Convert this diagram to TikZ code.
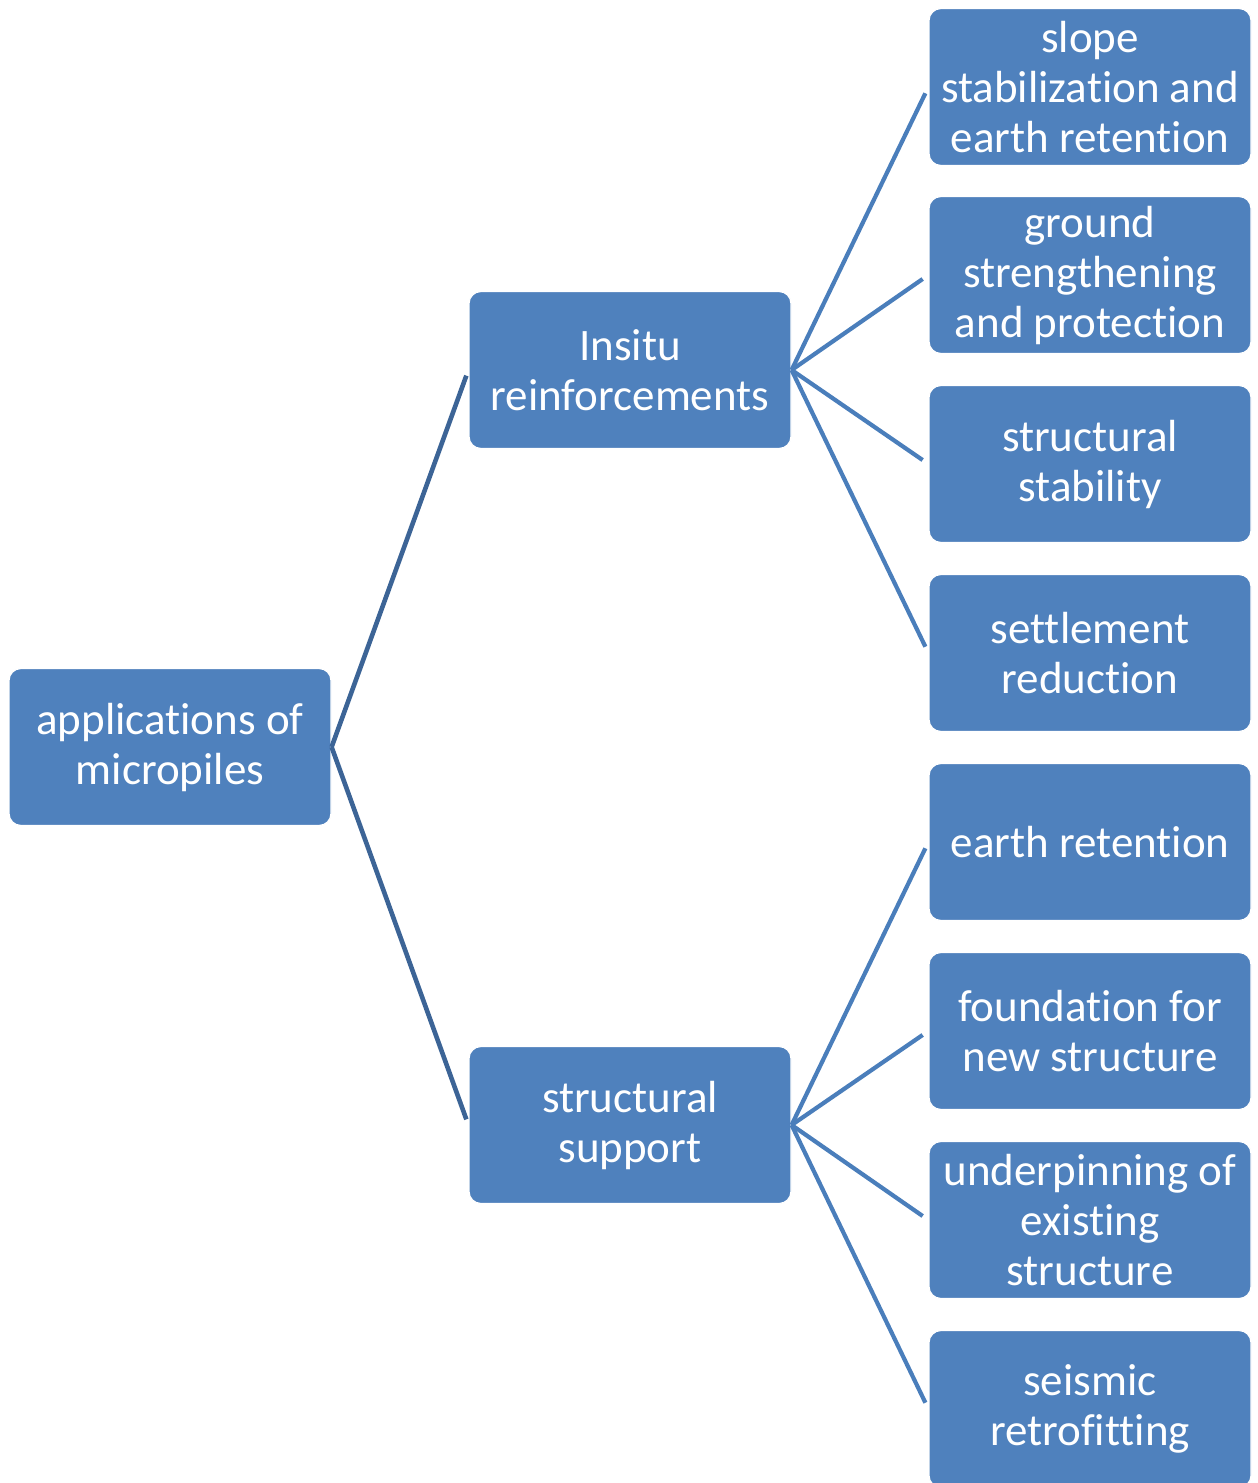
\documentclass[tikz,border=0pt]{standalone}
\usepackage{fontspec}
\setmainfont[Ligatures=NoCommon]{Carlito}
\usetikzlibrary{positioning}
\definecolor{boxblue}{HTML}{4F81BD}
\definecolor{linkdark}{HTML}{3C6496}
\definecolor{linklight}{HTML}{4A7EBB}

\begin{document}
\begin{tikzpicture}[x=0.5pt, y=-0.5pt,
	item/.style={rectangle, rounded corners=6pt, fill=boxblue, draw=white, line width=0.6pt, minimum width=161pt, minimum height=78.5pt, align=center, text=white, font=\fontsize{22.5}{25}\selectfont, inner sep=2pt},
	link/.style={line width=2.3pt, linkdark, shorten >=3pt},
	sublink/.style={line width=2.1pt, linklight, shorten >=3.5pt}]
	\useasboundingbox (0,0) rectangle (1258,1483);

	\node[item] (root) at (170,747) {applications of\\micropiles};
	\node[item] (insitu) at (630,370) {Insitu\\reinforcements};
	\node[item] (support) at (630,1125) {structural\\support};

	\node[item] (slope) at (1090,87) {slope\\stabilization and\\earth retention};
	\node[item] (ground) at (1090,275) {ground\\strengthening\\and protection};
	\node[item] (stab) at (1090,464) {structural\\stability};
	\node[item] (settle) at (1090,653) {settlement\\reduction};
	\node[item] (earth) at (1090,842) {earth retention};
	\node[item] (found) at (1090,1031) {foundation for\\new structure};
	\node[item] (under) at (1090,1220) {underpinning of\\existing\\structure};
	\node[item] (seismic) at (1090,1409) {seismic\\retrofitting};

	% first level
	\draw[link] (root.east) -- (insitu.west);
	\draw[link] (root.east) -- (support.west);
	% second level
	\foreach \leaf in {slope, ground, stab, settle}
		\draw[sublink] (insitu.east) -- (\leaf.west);
	\foreach \leaf in {earth, found, under, seismic}
		\draw[sublink] (support.east) -- (\leaf.west);
\end{tikzpicture}
\end{document}
